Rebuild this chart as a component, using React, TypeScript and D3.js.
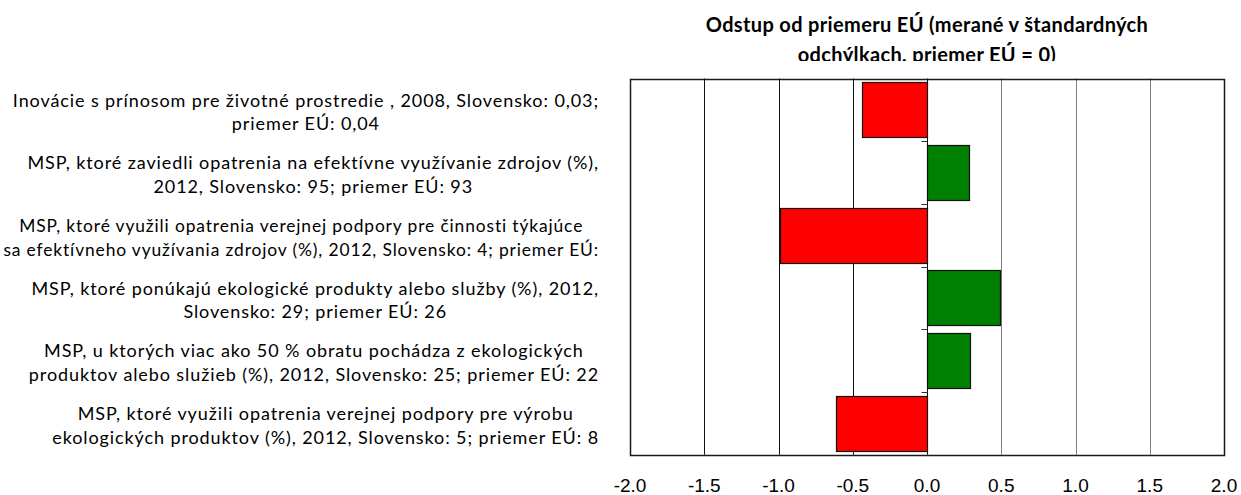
import React, { useEffect, useRef } from "react";
import * as d3 from "d3";

const titleLines = [
  "Odstup od priemeru EÚ (merané v štandardných",
  "odchýlkach, priemer EÚ = 0)",
];

const categoryLines: string[][] = [
  ["Inovácie s prínosom pre životné prostredie , 2008, Slovensko: 0,03;", "priemer EÚ: 0,04"],
  ["MSP, ktoré zaviedli opatrenia na efektívne využívanie zdrojov (%),", "2012, Slovensko: 95; priemer EÚ: 93"],
  ["MSP, ktoré využili opatrenia verejnej podpory pre činnosti týkajúce", "sa efektívneho využívania zdrojov (%), 2012, Slovensko: 4; priemer EÚ:"],
  ["MSP, ktoré ponúkajú ekologické produkty alebo služby (%), 2012,", "Slovensko: 29; priemer EÚ: 26"],
  ["MSP, u ktorých viac ako 50 % obratu pochádza z ekologických", "produktov alebo služieb (%), 2012, Slovensko: 25; priemer EÚ: 22"],
  ["MSP, ktoré využili opatrenia verejnej podpory pre výrobu", "ekologických produktov (%), 2012, Slovensko: 5; priemer EÚ: 8"],
];

const values = [-0.44, 0.28, -0.99, 0.49, 0.29, -0.61];

const xTicks = [-2, -1.5, -1, -0.5, 0, 0.5, 1, 1.5, 2];

const W = 1241;
const H = 495;
const M = { left: 630, right: 1224, top: 78.5, bottom: 454.7 };

export default function App() {
  const ref = useRef<SVGSVGElement | null>(null);

  useEffect(() => {
    const svg = d3.select(ref.current);
    svg.selectAll("*").remove();

    const x = d3.scaleLinear().domain([-2, 2]).range([M.left, M.right]);
    const y = d3
      .scaleBand<number>()
      .domain(d3.range(values.length))
      .range([M.top, M.bottom])
      .paddingInner(0.12)
      .paddingOuter(0.06);
    const step = (M.bottom - M.top) / values.length;
    const px = (v: number) => Math.round(x(v)) + 0.5;

    svg.append("rect").attr("width", W).attr("height", H).attr("fill", "#fff");

    // title (clipped at bottom like the reference)
    const defs = svg.append("defs");
    defs
      .append("clipPath")
      .attr("id", "titleClip")
      .append("rect")
      .attr("x", 0)
      .attr("y", 0)
      .attr("width", W)
      .attr("height", 61);
    const tg = svg.append("g").attr("clip-path", "url(#titleClip)");
    titleLines.forEach((t, i) => {
      tg.append("text")
        .attr("x", (M.left + M.right) / 2)
        .attr("y", 32 + i * 30)
        .attr("text-anchor", "middle")
        .attr("font-family", "Lato, 'Open Sans', sans-serif")
        .attr("font-weight", 700)
        .attr("font-size", 20)
        .attr("letter-spacing", 0.35)
        .attr("fill", "#000")
        .text(t);
    });

    // gridlines
    xTicks
      .filter((t) => t !== 0 && Math.abs(t) !== 2)
      .forEach((t) => {
        svg
          .append("line")
          .attr("x1", px(t))
          .attr("x2", px(t))
          .attr("y1", M.top)
          .attr("y2", M.bottom)
          .attr("stroke", t < 0 ? "#111" : "#7f7f7f")
          .attr("stroke-width", 1);
      });

    // bars
    values.forEach((v, i) => {
      const x0 = x(Math.min(0, v));
      const x1 = x(Math.max(0, v));
      svg
        .append("rect")
        .attr("x", Math.round(x0) + 0.5)
        .attr("y", Math.round(y(i)!) + 0.5)
        .attr("width", Math.round(x1) - Math.round(x0))
        .attr("height", Math.round(y.bandwidth()))
        .attr("fill", v < 0 ? "#ff0000" : "#008000")
        .attr("stroke", "#111")
        .attr("stroke-width", 1.2);
    });

    // zero axis + category ticks
    svg
      .append("line")
      .attr("x1", px(0))
      .attr("x2", px(0))
      .attr("y1", M.top)
      .attr("y2", M.bottom)
      .attr("stroke", "#111")
      .attr("stroke-width", 1);
    d3.range(values.length + 1).forEach((i) => {
      const yy = Math.round(M.top + i * step) + 0.5;
      svg
        .append("line")
        .attr("x1", px(0) - 6)
        .attr("x2", px(0))
        .attr("y1", yy)
        .attr("y2", yy)
        .attr("stroke", "#333")
        .attr("stroke-width", 1);
    });

    // plot border
    svg
      .append("rect")
      .attr("x", px(-2))
      .attr("y", Math.round(M.top) + 0.5)
      .attr("width", px(2) - px(-2))
      .attr("height", Math.round(M.bottom) - Math.round(M.top))
      .attr("fill", "none")
      .attr("stroke", "#1a1a1a")
      .attr("stroke-width", 1.5);

    // x tick labels
    xTicks.forEach((t) => {
      svg
        .append("text")
        .attr("x", x(t))
        .attr("y", 492)
        .attr("text-anchor", "middle")
        .attr("font-family", "'Liberation Sans', Arial, sans-serif")
        .attr("font-size", 19)
        .attr("fill", "#000")
        .text(d3.format(".1f")(t).replace("−", "-"));
    });

    // category labels: block right-aligned, lines centred within block
    const labelRight = 599;
    const maxAllowed = 596;
    const lineH = 23.5;
    categoryLines.forEach((lines, i) => {
      const cy = M.top + (i + 0.5) * step;
      const g = svg.append("g");
      const texts = lines.map((l, j) =>
        g
          .append("text")
          .attr("y", cy + (j - (lines.length - 1) / 2) * lineH + 8.5)
          .attr("text-anchor", "middle")
          .attr("font-family", "Lato, 'Open Sans', sans-serif")
          .attr("font-size", 18)
          .attr("letter-spacing", 0.9)
          .attr("fill", "#000")
          .text(l)
      );
      let maxW = d3.max(texts, (t) => (t.node() as SVGTextElement).getComputedTextLength()) || 0;
      if (maxW > maxAllowed) {
        const k = maxAllowed / maxW;
        texts.forEach((t) => t.attr("font-size", 18 * k).attr("letter-spacing", 0.9 * k));
        maxW = d3.max(texts, (t) => (t.node() as SVGTextElement).getComputedTextLength()) || 0;
      }
      texts.forEach((t) => t.attr("x", labelRight - maxW / 2));
    });
  }, []);

  return (
    <svg
      ref={ref}
      width={W}
      height={H}
      style={{ position: "absolute", left: 0, top: 0, display: "block" }}
    />
  );
}
